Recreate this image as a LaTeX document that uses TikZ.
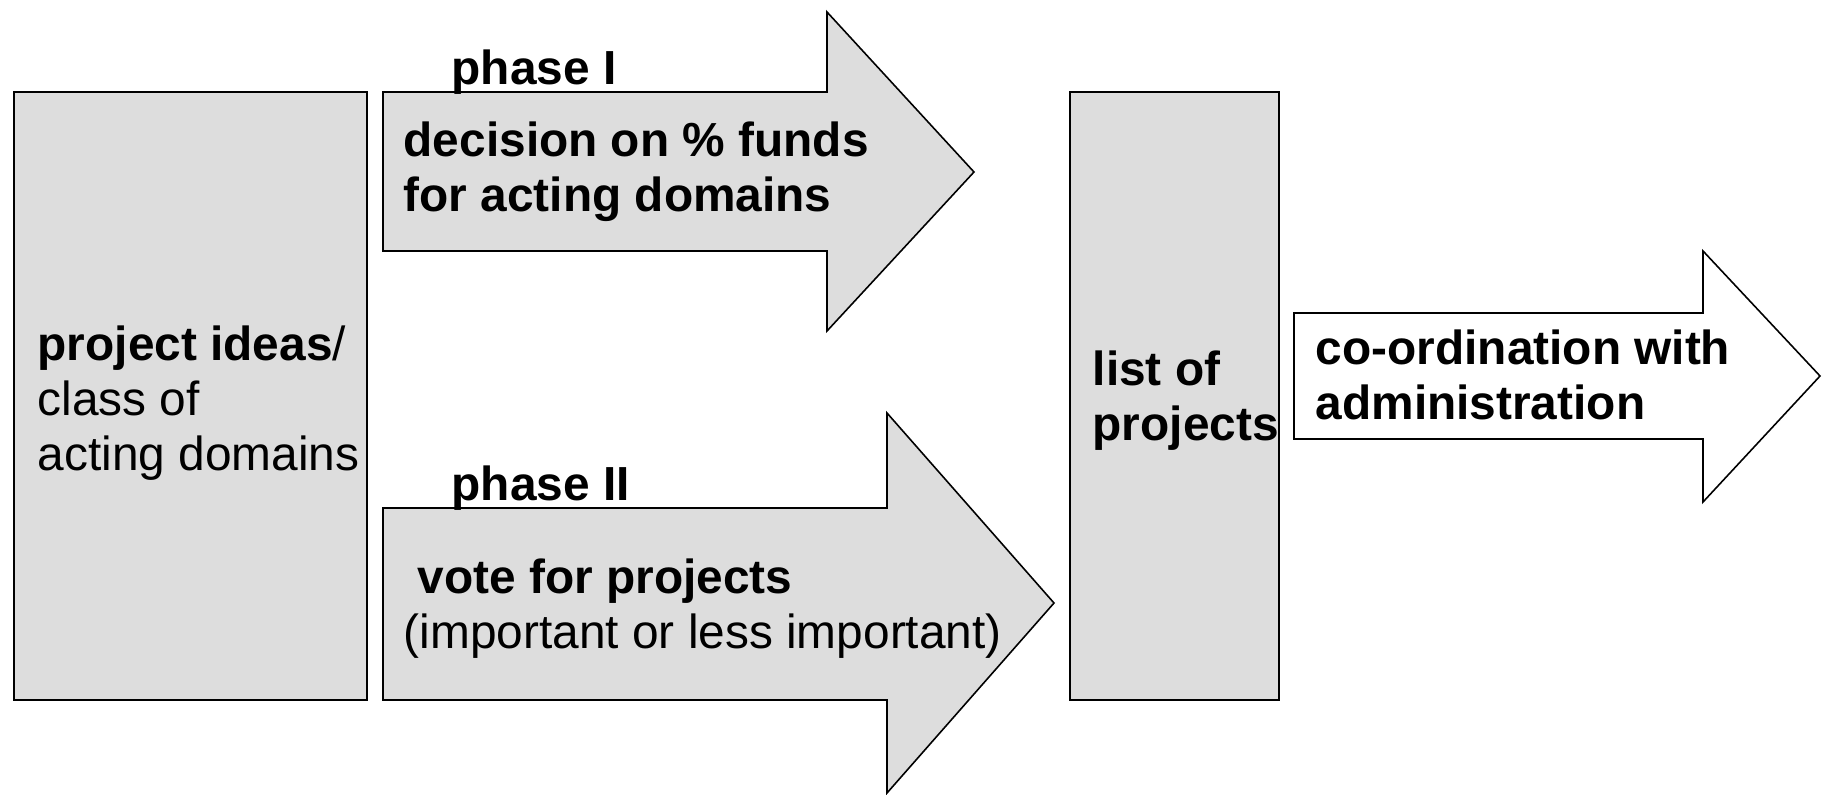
\documentclass[tikz,border=0pt]{standalone}
\usepackage{fontspec}
\setmainfont{Liberation Sans}
\usetikzlibrary{positioning}

\definecolor{boxgray}{RGB}{221,221,221}

\begin{document}
\begin{tikzpicture}[
	x = 0.01cm, y = -0.01cm,
	block/.style = {
	  draw, black, line width = 0.45pt, fill = boxgray,
	},
	txt/.style = {
	  anchor = base west, inner sep = 0pt, align = left,
	  font = \fontsize{13.6}{15.6}\selectfont,
	},
	btxt/.style = {
	  txt, font = \fontsize{13.6}{15.6}\selectfont\bfseries,
	},
  ]
  \useasboundingbox (0,0) rectangle (1822,794);

  % the two columns
  \draw[block] (14,92) rectangle (367,700);
  \draw[block] (1070,92) rectangle (1279,700);

  % block arrows
  \draw[block] (383,92) -- (827,92) -- (827,12) -- (974,172)
	-- (827,331) -- (827,251) -- (383,251) -- cycle;
  \draw[block] (383,508) -- (887,508) -- (887,413) -- (1054,603)
	-- (887,793) -- (887,700) -- (383,700) -- cycle;
  \draw[block, fill = white] (1294,313) -- (1703,313) -- (1703,251)
	-- (1820,376) -- (1703,502) -- (1703,439) -- (1294,439) -- cycle;

  % texts (base of a multi-line node = its last line)
  \node[txt] (ideas) at (37,470)
	{\textbf{project ideas}/\\class of\\acting domains};
  \node[btxt] (phaseI) at (451,85) {phase I};
  \node[btxt] (funds) at (403,211) {decision on \% funds\\for acting domains};
  \node[btxt] (phaseII) at (451,500) {phase II};
  \node[btxt] (vote) at (417,593) {vote for projects};
  \node[txt] (weight) at (403,648) {(important or less important)};
  \node[btxt] (list) at (1092,440) {list of\\projects};
  \node[btxt] (coord) at (1315,419) {co-ordination with\\administration};
\end{tikzpicture}
\end{document}
